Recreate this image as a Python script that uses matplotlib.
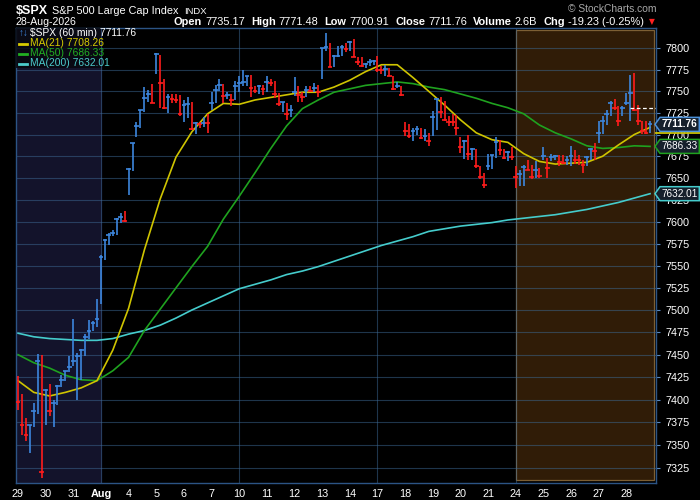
import matplotlib
matplotlib.use("Agg")
import matplotlib.pyplot as plt
import numpy as np
from matplotlib.ticker import FixedLocator, NullLocator, FuncFormatter
from matplotlib.patches import Rectangle, Polygon

plt.rcParams['font.family'] = ['Liberation Sans', 'DejaVu Sans']

# hourly bars, 7 per day
day_labels = ["29", "30", "31", "Aug", "4", "5", "6", "7", "10", "11", "12", "13", "14",
              "17", "18", "19", "20", "21", "24", "25", "26", "27", "28"]
week_starts = ["Aug", "10", "17", "24"]

highs = [7426.5, 7406.7, 7379.5, 7371.6, 7396.3, 7451.1, 7450.0,
         7411.9, 7417.5, 7400.0, 7416.4, 7427.6, 7432.0, 7448.0,
         7489.9, 7451.9, 7456.3, 7473.5, 7489.0, 7488.0, 7512.0,
         7562.0, 7580.0, 7587.7, 7590.4, 7603.8, 7609.6, 7612.3,
         7661.3, 7690.8, 7715.0, 7728.0, 7755.0, 7751.3, 7759.0,
         7794.6, 7792.3, 7764.8, 7747.5, 7746.4, 7747.5, 7745.6,
         7739.8, 7743.7, 7737.2, 7715.0, 7715.0, 7720.7, 7723.4,
         7748.7, 7757.0, 7764.8, 7759.0, 7748.8, 7746.9, 7762.4,
         7768.2, 7775.2, 7768.2, 7769.0, 7755.8, 7757.4, 7757.4,
         7767.4, 7764.3, 7762.4, 7748.0, 7738.0, 7736.4, 7734.1,
         7766.3, 7755.8, 7748.8, 7755.8, 7755.8, 7759.7, 7757.4,
         7800.0, 7817.8, 7806.2, 7792.2, 7803.1, 7803.9, 7807.0,
         7808.9, 7810.9, 7789.5, 7789.5, 7783.0, 7787.6, 7786.8,
         7791.5, 7779.8, 7780.6, 7776.7, 7768.2, 7760.5, 7756.5,
         7714.2, 7712.7, 7707.7, 7709.6, 7707.7, 7706.5, 7701.9,
         7726.9, 7742.3, 7743.5, 7738.5, 7722.0, 7724.2, 7723.0,
         7697.3, 7694.2, 7700.0, 7684.6, 7683.5, 7664.2, 7655.8,
         7678.0, 7676.9, 7697.3, 7694.2, 7683.5, 7680.8, 7685.8,
         7664.2, 7659.6, 7665.4, 7671.2, 7665.4, 7669.2, 7662.0,
         7685.8, 7672.7, 7678.0, 7676.9, 7676.2, 7676.9, 7675.0,
         7687.3, 7682.7, 7676.9, 7671.2, 7675.8, 7684.6, 7690.4,
         7715.4, 7721.2, 7728.8, 7738.5, 7741.2, 7732.7, 7732.7,
         7748.1, 7768.5, 7771.5, 7734.6, 7716.2, 7715.4, 7715.4]
lows = [7388.8, 7360.8, 7353.7, 7340.7, 7370.1, 7384.3, 7313.4,
        7371.3, 7381.3, 7370.1, 7393.7, 7413.5, 7421.0, 7430.6,
        7437.3, 7399.3, 7421.6, 7448.0, 7468.0, 7476.0, 7481.0,
        7507.0, 7556.0, 7573.0, 7584.0, 7585.4, 7598.9, 7600.0,
        7630.7, 7657.5, 7697.7, 7708.0, 7726.4, 7737.2, 7736.0,
        7770.5, 7730.3, 7729.5, 7724.5, 7736.0, 7736.0, 7721.8,
        7714.2, 7719.5, 7705.4, 7700.4, 7707.3, 7709.2, 7701.5,
        7728.4, 7736.0, 7750.2, 7736.0, 7741.0, 7733.3, 7740.0,
        7748.8, 7756.6, 7755.8, 7743.0, 7748.0, 7747.0, 7745.7,
        7748.8, 7755.8, 7741.9, 7733.3, 7726.4, 7717.0, 7719.8,
        7744.2, 7738.0, 7738.0, 7743.0, 7748.8, 7749.6, 7743.0,
        7764.3, 7797.3, 7778.0, 7778.0, 7789.5, 7790.7, 7796.1,
        7797.3, 7789.5, 7780.6, 7778.0, 7776.7, 7779.8, 7780.6,
        7772.0, 7770.2, 7768.2, 7767.4, 7752.0, 7753.5, 7744.2,
        7698.0, 7696.2, 7693.0, 7700.0, 7695.0, 7693.0, 7687.3,
        7698.8, 7705.8, 7719.2, 7715.4, 7709.6, 7709.6, 7700.0,
        7678.8, 7672.0, 7670.4, 7671.2, 7661.5, 7648.8, 7638.5,
        7659.6, 7660.4, 7673.0, 7676.9, 7671.9, 7669.2, 7671.2,
        7638.5, 7641.2, 7641.2, 7658.8, 7648.8, 7650.0, 7650.0,
        7671.2, 7650.0, 7669.2, 7670.4, 7664.2, 7666.2, 7665.4,
        7663.5, 7666.2, 7665.4, 7655.8, 7663.5, 7671.2, 7671.2,
        7690.4, 7701.2, 7711.5, 7721.2, 7728.8, 7710.4, 7721.2,
        7734.6, 7715.4, 7726.9, 7711.5, 7701.2, 7700.9, 7701.9]
closes = [7397.4, 7371.6, 7360.4, 7371.6, 7387.3, 7442.9, 7319.8,
          7410.8, 7387.7, 7396.3, 7414.6, 7422.0, 7431.3, 7436.6,
          7443.3, 7449.0, 7454.9, 7470.0, 7477.0, 7486.0, 7490.0,
          7560.0, 7579.7, 7584.7, 7587.7, 7602.7, 7605.0, 7601.1,
          7660.0, 7690.0, 7710.0, 7728.0, 7741.8, 7746.4, 7736.8,
          7793.0, 7760.0, 7731.0, 7743.7, 7740.6, 7739.8, 7723.4,
          7734.0, 7735.0, 7706.0, 7713.8, 7711.9, 7713.8, 7713.0,
          7736.0, 7751.3, 7757.0, 7744.8, 7745.5, 7740.3, 7756.6,
          7759.3, 7760.5, 7767.4, 7753.5, 7750.8, 7755.8, 7752.7,
          7761.2, 7759.7, 7746.9, 7735.3, 7737.2, 7723.6, 7728.7,
          7749.6, 7745.7, 7743.0, 7751.6, 7750.8, 7753.5, 7749.6,
          7800.0, 7801.2, 7778.0, 7790.7, 7791.5, 7801.2, 7799.2,
          7807.8, 7789.5, 7783.7, 7779.0, 7781.8, 7784.5, 7785.7,
          7775.2, 7774.5, 7776.0, 7768.2, 7753.0, 7756.0, 7746.2,
          7704.6, 7698.0, 7703.8, 7706.9, 7696.2, 7698.0, 7693.0,
          7720.0, 7741.2, 7726.2, 7717.3, 7714.6, 7714.0, 7707.7,
          7685.8, 7693.0, 7677.7, 7683.5, 7663.5, 7651.2, 7642.3,
          7663.5, 7676.2, 7691.2, 7681.9, 7673.0, 7679.6, 7674.2,
          7651.2, 7654.6, 7662.7, 7659.6, 7651.2, 7659.6, 7651.9,
          7675.8, 7661.5, 7674.2, 7675.8, 7668.1, 7667.2, 7670.4,
          7675.8, 7671.2, 7670.2, 7665.4, 7674.2, 7683.5, 7680.8,
          7701.9, 7715.4, 7723.8, 7736.5, 7730.8, 7715.4, 7730.99,
          7736.5, 7748.1, 7728.8, 7715.4, 7703.8, 7702.0, 7711.76]

# moving averages sampled every 4 bars (bar 0 .. 160)
ma_bars = list(range(0, 161, 4))
ma21 = [7421, 7408, 7404, 7408, 7413, 7421, 7455, 7502, 7568, 7626, 7674, 7703, 7724, 7736,
        7735, 7740, 7743, 7746, 7749, 7749, 7755, 7763, 7773, 7781, 7781, 7766, 7750, 7734,
        7717, 7702, 7694, 7691, 7678, 7669, 7666, 7667, 7668, 7675, 7688, 7700, 7708.26]
ma50 = [7450, 7441, 7435, 7427, 7422, 7421, 7432, 7447, 7477, 7501, 7525, 7549, 7572, 7603,
        7629, 7656, 7684, 7710, 7730, 7740, 7749, 7753, 7757, 7759, 7761, 7759, 7755, 7752,
        7747, 7742, 7736, 7731, 7724, 7711, 7702, 7695, 7687, 7684, 7685, 7687, 7686.33]
ma200 = [7474, 7470, 7468, 7467, 7466, 7466, 7468, 7473, 7477, 7483, 7491, 7500, 7508, 7516,
         7524, 7529, 7534, 7540, 7544, 7549, 7555, 7561, 7567, 7573, 7578, 7583, 7589, 7592,
         7595, 7597, 7599, 7602, 7604, 7606, 7608, 7611, 7614, 7618, 7622, 7627, 7632.01]
prev_close = 7730.99
y_ticks = list(range(7325, 7801, 25))

BG = "#000000"
BLUE = "#3d86dd"
RED = "#ff1c1c"
GRID = "#3d6a96"
YEL = "#cfc400"
GRN = "#1fa21f"
CYN = "#45cccc"

fig = plt.figure(figsize=(7, 5), dpi=100, facecolor=BG)
ax = fig.add_axes([16 / 700, 17 / 500, 640 / 700, 455 / 500], facecolor=BG)

n = len(closes)
idx = np.arange(n)
cols = [RED] + [BLUE if closes[i] > closes[i - 1] else RED for i in range(1, n)]

day_pos = [7 * d for d in range(len(day_labels))]
x_left, x_right = -0.5, n + 0.5

# shaded regions
aug_x = day_pos[day_labels.index("Aug")]
w24_x = day_pos[day_labels.index("24")]
ax.axvspan(x_left, aug_x, color="#13132b", zorder=0)
ax.add_patch(Rectangle((w24_x, 7311), x_right - w24_x - 0.4, 7822 - 7311, facecolor="#301c07",
                       edgecolor="#7d5f34", lw=0.9, zorder=0.5))

# grid
for t in y_ticks:
    ax.axhline(t, color=GRID, lw=0.8, alpha=0.5, zorder=1)
for lab in week_starts:
    ax.axvline(day_pos[day_labels.index(lab)], color=GRID, lw=0.8, alpha=0.5, zorder=1)

# moving averages
ax.plot(ma_bars, ma200, color=CYN, lw=1.2, zorder=2)
ax.plot(ma_bars, ma50, color=GRN, lw=1.2, zorder=2)
ax.plot(ma_bars, ma21, color=YEL, lw=1.2, zorder=2)

# price bars
ax.vlines(idx, lows, highs, colors=cols, lw=1.2, zorder=3)
ax.hlines(closes, idx - 0.6, idx + 0.6, colors=cols, lw=1.2, zorder=3)

# previous close dashed line
ax.hlines(prev_close, day_pos[-1] + 1, x_right, colors="white", lw=0.9,
          linestyles=(0, (3, 2)), zorder=3)

ax.set_xlim(x_left, x_right)
ax.set_yscale("log")
ax.set_ylim(7308, 7824)
ax.yaxis.set_major_locator(FixedLocator(y_ticks))
ax.yaxis.set_minor_locator(NullLocator())
ax.yaxis.set_major_formatter(FuncFormatter(lambda v, p: f"{v:.0f}"))
ax.yaxis.tick_right()
ax.tick_params(axis="y", colors="#5a8ac0", labelcolor="white", labelsize=7.8, length=3,
               width=0.8, pad=4)
ax.set_xticks(day_pos)
ax.set_xticklabels(day_labels)
for lab in ax.get_xticklabels():
    if lab.get_text() == "Aug":
        lab.set_fontweight("bold")
        lab.set_fontsize(8.6)
ax.tick_params(axis="x", colors="white", labelsize=7.8, length=0, pad=4)
for s in ax.spines.values():
    s.set_color("#2c5485")
    s.set_linewidth(1.0)


def fig_y(v):
    return fig.transFigure.inverted().transform(ax.transData.transform((0, v)))[1]


# value tags on the right
tags = [(ma200[-1], CYN, "normal"), (ma50[-1], GRN, "normal"), (closes[-1], "#4a90d9", "bold")]
for val, ec, fw in tags:
    yc = fig_y(val)
    h = 7 / 500
    pts = [(655 / 700, yc), (660 / 700, yc + h), (699.3 / 700, yc + h),
           (699.3 / 700, yc - h), (660 / 700, yc - h)]
    fig.patches.append(Polygon(pts, closed=True, transform=fig.transFigure,
                               facecolor="#16202c", edgecolor=ec, lw=1.1, zorder=5))
    fig.text(661.5 / 700, yc, f"{val:.2f}", ha="left", va="center", color="white",
             fontsize=7.2, fontweight=fw, zorder=6)
yl = fig_y(ma21[-1]) - 5.5 / 500
fig.lines.append(plt.Line2D([656 / 700, 700 / 700], [yl, yl], transform=fig.transFigure,
                            color=YEL, lw=1.3, zorder=4))

# in-chart legend
ax.add_patch(Rectangle((0, 0.912), 0.133, 0.088, transform=ax.transAxes, facecolor="#08080f",
                       edgecolor="none", alpha=0.85, zorder=4))
leg_y = [1 - 33.5 / 500, 1 - 43.5 / 500, 1 - 53.5 / 500, 1 - 63.5 / 500]
fig.text(19 / 700, leg_y[0], "↑↓", color=BLUE, fontsize=7, va="center", zorder=7)
fig.text(30 / 700, leg_y[0], f"$SPX (60 min) {closes[-1]:.2f}", color="white", fontsize=7.4,
         va="center", zorder=7)
for yy, col, txt in [(leg_y[1], "#d8cc00", f"MA(21) {ma21[-1]:.2f}"),
                     (leg_y[2], "#22b022", f"MA(50) {ma50[-1]:.2f}"),
                     (leg_y[3], "#4ccccc", f"MA(200) {ma200[-1]:.2f}")]:
    fig.lines.append(plt.Line2D([19 / 700, 27 / 700], [yy, yy], transform=fig.transFigure,
                                color=col, lw=2))
    fig.text(30 / 700, yy, txt, color=col, fontsize=7.4, va="center", zorder=7)

# header, laid out piece by piece
renderer = fig.canvas.get_renderer()


def run_text(x, ytop, pieces):
    for s, size, fw, col, gap in pieces:
        t = fig.text(x / 700, 1 - ytop / 500, s, va="baseline", ha="left", color=col,
                     fontsize=size, fontweight=fw)
        x += t.get_window_extent(renderer).width + gap
    return x


run_text(16, 13.5, [("$SPX", 9, "bold", "white", 4), ("S&P 500 Large Cap Index", 7.8,
                    "normal", "white", 5), ("INDX", 6.8, "normal", "white", 0)])
fig.text(656 / 700, 1 - 12.5 / 500, "© StockCharts.com", va="baseline", ha="right",
         color="#a8a8a8", fontsize=7.4)
run_text(16, 25, [("28-Aug-2026", 7.6, "normal", "white", 0)])
hdr = [("Open", "bold", 3), ("7735.17", "normal", 6), ("High", "bold", 3),
       ("7771.48", "normal", 6), ("Low", "bold", 3), ("7700.91", "normal", 6),
       ("Close", "bold", 3), ("7711.76", "normal", 6), ("Volume", "bold", 3),
       ("2.6B", "normal", 6), ("Chg", "bold", 3), ("-19.23 (-0.25%)", "normal", 3)]
x_end = run_text(174, 25, [(s, 7.9, fw, "white", g) for s, fw, g in hdr])
fig.text(x_end / 700 + 2 / 700, 1 - 21.5 / 500, "▼", color="#ff2020", fontsize=5.5,
         ha="left", va="center", family="DejaVu Sans")

fig.savefig("out.png", dpi=100, facecolor=BG)
